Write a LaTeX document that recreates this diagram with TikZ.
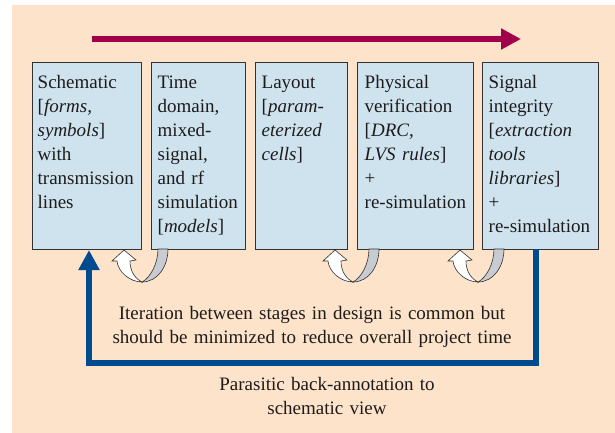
\documentclass[tikz,border=0pt]{standalone}
\usepackage{fontspec}
\setmainfont{Liberation Serif}
\usetikzlibrary{arrows.meta,calc}
\setlength{\parindent}{0pt}
\definecolor{bgpeach}{RGB}{253,227,201}
\definecolor{boxfill}{RGB}{207,227,238}
\definecolor{boxline}{RGB}{50,50,52}
\definecolor{toparrowcol}{RGB}{160,0,75}
\definecolor{fbblue}{RGB}{0,74,144}
\definecolor{ribbongray}{RGB}{201,203,210}
\definecolor{textcol}{RGB}{30,27,28}
\begin{document}
\begin{tikzpicture}[x=1pt,y=-1pt,
  stagebox/.style={draw=boxline, fill=boxfill, line width=0.85pt, minimum width=#1,
    minimum height=187pt, anchor=north west, inner sep=0pt, outer sep=0pt},
  stagetext/.style={anchor=north west, inner sep=0pt, text width=118pt, align=left,
    font=\fontsize{19}{24}\selectfont, text=textcol},
  notetext/.style={anchor=north, inner sep=0pt, text width=440pt, align=center,
    font=\fontsize{19}{24}\selectfont, text=textcol},
  toparrow/.style={draw=toparrowcol, line width=6pt,
    -{Triangle[width=20pt,length=20pt]}, fill=toparrowcol},
  fbarrow/.style={draw=fbblue, line width=6pt, line join=miter,
    -{Triangle[width=20pt,length=20pt]}},
  hookpic/.pic={
    \filldraw[fill=ribbongray, draw=boxline, line width=0.6pt]
      (0,0) .. controls (16,0) and (26,-16) .. (26,-33) -- (16,-33)
      .. controls (16,-18) and (8,-4) .. (0,0) -- cycle;
    \filldraw[fill=white, draw=boxline, line width=0.6pt, line join=miter]
      (0,0) .. controls (-12,0) and (-24,-10) .. (-25,-21) -- (-30,-21)
      -- (-18,-32) -- (-6,-22) -- (-12,-21)
      .. controls (-12,-12) and (-8,-4) .. (0,0) -- cycle;
  }]
\useasboundingbox (0,0) rectangle (615,433);
\fill[bgpeach] (12,5) rectangle (615,433);

% top progress arrow
\coordinate (a0) at (92,39);
\coordinate (a1) at (521,39);
\draw[toparrow] (a0) -- (a1);

% stage boxes
\node[stagebox=109pt] (B1) at (32,62) {};
\node[stagebox=94pt]  (B2) at (151,62) {};
\node[stagebox=92pt]  (B3) at (255,62) {};
\node[stagebox=116pt] (B4) at (357,62) {};
\node[stagebox=116pt] (B5) at (482,62) {};

\node[stagetext] (T1) at ($(B1.north west)+(5.5,9.2)$)
  {\strut Schematic\\ {[}\textit{forms,}\\ \textit{symbols}]\\ with\\ transmission\\ lines};
\node[stagetext] (T2) at ($(B2.north west)+(6.5,9.2)$)
  {\strut Time\\ domain,\\ mixed-\\ signal,\\ and rf\\ simulation\\ {[}\textit{models}]};
\node[stagetext] (T3) at ($(B3.north west)+(6.5,9.2)$)
  {\strut Layout\\ {[}\textit{param-}\\ \textit{eterized}\\ \textit{cells}]};
\node[stagetext] (T4) at ($(B4.north west)+(7.5,9.2)$)
  {\strut Physical\\ verification\\ {[}\textit{DRC,}\\ \textit{LVS rules}]\\ +\\ re-simulation};
\node[stagetext] (T5) at ($(B5.north west)+(6.5,9.2)$)
  {\strut Signal\\ integrity\\ {[}\textit{extraction}\\ \textit{tools}\\ \textit{libraries}]\\ +\\ re-simulation};

% iteration hooks
\pic at ($(B2.south west)+(-9,33)$) {hookpic};
\pic at ($(B4.south west)+(-4,33)$) {hookpic};
\pic at ($(B5.south west)+(-4,33)$) {hookpic};

% feedback arrow
\coordinate (fbstart) at ($(B5.south west)+(53.5,0)$);
\coordinate (fbend) at ($(B1.south west)+(57,1)$);
\draw[fbarrow] (fbstart) -- ++(0,114) -| (fbend);

% notes
\node[notetext] (N1) at (312,302.2)
  {\strut Iteration between stages in design is common but\\ should be minimized to reduce overall project time};
\node[notetext] (N2) at (327,373.2)
  {\strut Parasitic back-annotation to\\ schematic view};
\end{tikzpicture}
\end{document}
